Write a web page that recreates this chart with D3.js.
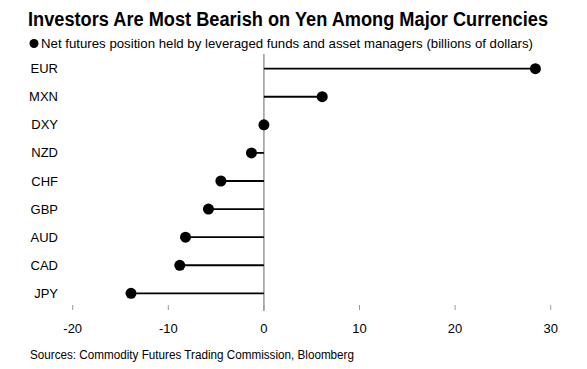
<!DOCTYPE html>
<html><head><meta charset="utf-8">
<script src="https://cdn.jsdelivr.net/npm/d3@7"></script>
<style>body{margin:0;background:#fff}svg{display:block}</style>
</head><body>
<script>
const categories = ["EUR","MXN","DXY","NZD","CHF","GBP","AUD","CAD","JPY"];
const values = [28.4, 6.1, 0.0, -1.3, -4.5, -5.8, -8.2, -8.8, -13.9];
const ticks = [-20, -10, 0, 10, 20, 30];
const title = "Investors Are Most Bearish on Yen Among Major Currencies";
const subtitle = "Net futures position held by leveraged funds and asset managers (billions of dollars)";
const source = "Sources: Commodity Futures Trading Commission, Bloomberg";

const W = 587, H = 369;
const svg = d3.select("body").append("svg").attr("width", W).attr("height", H);
const font = "'Liberation Sans', Arial, sans-serif";

const x = d3.scaleLinear().domain([-20, 30]).range([72.7, 550.7]);
const y = d3.scaleBand().domain(categories).range([54.6, 307.4]);

svg.append("text").attr("x", 28).attr("y", 26).attr("font-family", font)
  .attr("font-weight", "bold").attr("font-size", 19.5).attr("fill", "#000")
  .attr("textLength", 520).attr("lengthAdjust", "spacingAndGlyphs").text(title);
svg.append("circle").attr("cx", 34).attr("cy", 43.5).attr("r", 4.5).attr("fill", "#000");
svg.append("text").attr("x", 41).attr("y", 48).attr("font-family", font)
  .attr("font-size", 13).attr("fill", "#000")
  .attr("textLength", 492).attr("lengthAdjust", "spacingAndGlyphs").text(subtitle);

// ticks
const axis = svg.append("g");
axis.selectAll("line").data(ticks).join("line")
  .attr("x1", d => x(d)).attr("x2", d => x(d)).attr("y1", 305).attr("y2", 310)
  .attr("stroke", "#999").attr("stroke-width", 1);
axis.selectAll("text").data(ticks).join("text")
  .attr("x", d => x(d)).attr("y", 333).attr("text-anchor", "middle")
  .attr("font-family", font).attr("font-size", 13).attr("fill", "#000").text(d => d);

// zero line
svg.append("line").attr("x1", x(0)).attr("x2", x(0)).attr("y1", 54).attr("y2", 311)
  .attr("stroke", "#999").attr("stroke-width", 1.5);

const cy = d => y(d) + y.bandwidth() / 2;
svg.append("g").selectAll("text").data(categories).join("text")
  .attr("x", 58).attr("y", d => cy(d) + 4.5).attr("text-anchor", "end")
  .attr("font-family", font).attr("font-size", 13).attr("fill", "#000").text(d => d);

const data = categories.map((c, i) => ({c, v: values[i]}));
svg.append("g").selectAll("line").data(data).join("line")
  .attr("x1", x(0)).attr("x2", d => x(d.v)).attr("y1", d => cy(d.c)).attr("y2", d => cy(d.c))
  .attr("stroke", "#000").attr("stroke-width", 1.8);
svg.append("g").selectAll("circle").data(data).join("circle")
  .attr("cx", d => x(d.v)).attr("cy", d => cy(d.c)).attr("r", 5.5).attr("fill", "#000");

svg.append("text").attr("x", 30).attr("y", 359).attr("font-family", font)
  .attr("font-size", 12).attr("fill", "#000")
  .attr("textLength", 324).attr("lengthAdjust", "spacingAndGlyphs").text(source);
</script>
</body></html>
